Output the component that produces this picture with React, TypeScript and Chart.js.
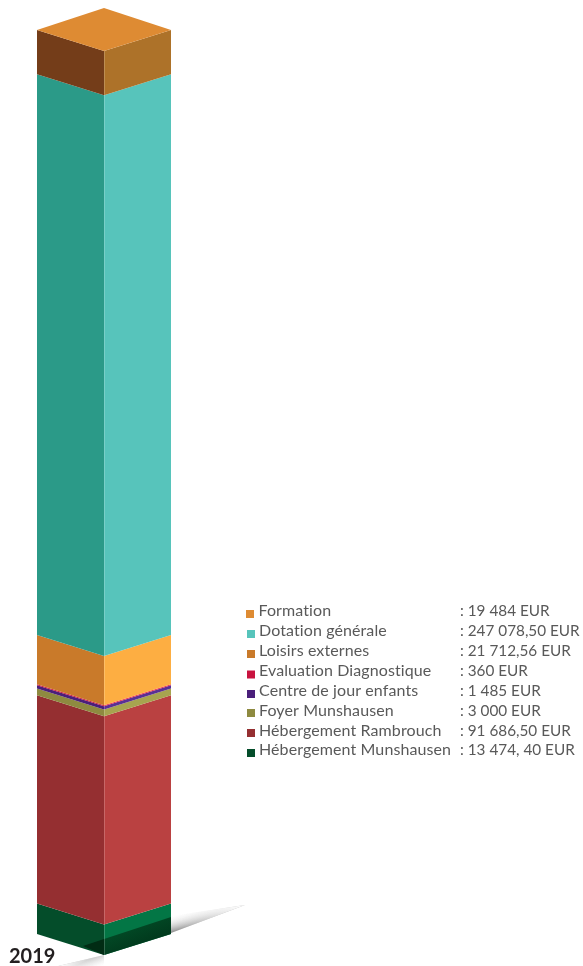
import React, { useEffect, useRef } from "react";
import { Chart, registerables } from "chart.js";

Chart.register(...registerables);

const years = ["2019"];
const categories = ["Hébergement Munshausen", "Hébergement Rambrouch", "Foyer Munshausen", "Centre de jour enfants", "Evaluation Diagnostique", "Loisirs externes", "Dotation générale", "Formation"];
const amounts = [13474.4, 91686.5, 3000, 1485, 360, 21712.56, 247078.5, 19484];
const amountLabels = ["13 474, 40 EUR", "91 686,50 EUR", "3 000 EUR", "1 485 EUR", "360 EUR", "21 712,56 EUR", "247 078,50 EUR", "19 484 EUR"];
const leftColors = ["#044d2a", "#952f31", "#8e8a40", "#4a1f7a", "#c8133f", "#c97a2a", "#2b9a88", "#743d19"];
const rightColors = ["#037645", "#ba4141", "#a7a44f", "#5a3094", "#e8294f", "#fdae42", "#57c4bb", "#ad7229"];
const swatchColors = ["#044d2a", "#952f31", "#8e8a40", "#4a1f7a", "#c8133f", "#c97a2a", "#57c4bb", "#de8b33"];
const topColor = "#de8b33";

const prism3d = {
  id: "prism3d",
  beforeDatasetsDraw(chart: any) {
    const ctx = chart.ctx;
    const poly = (pts: number[][], fill: any) => {
      ctx.beginPath();
      pts.forEach((p, i) => (i ? ctx.lineTo(p[0], p[1]) : ctx.moveTo(p[0], p[1])));
      ctx.closePath();
      ctx.fillStyle = fill;
      ctx.fill();
    };
    const dy = 21;
    const first = chart.getDatasetMeta(0).data[0];
    const xL = first.x - first.width / 2;
    const xR = first.x + first.width / 2;
    const xC = first.x;
    const floor = first.base;

    ctx.save();
    // ground shadow, right side: soft across the wedge, fading along it
    const wedge = [[xR, floor - 18], [xR + 74, floor - 29], [xR, floor - 1]];
    const g1 = ctx.createLinearGradient(xR, floor - 1, xR - 5, floor - 16);
    g1.addColorStop(0, "rgba(110,110,110,0.8)");
    g1.addColorStop(1, "rgba(245,245,245,0.05)");
    poly(wedge, g1);
    const g1b = ctx.createLinearGradient(xR, floor - 1, xR + 72, floor - 28);
    g1b.addColorStop(0, "rgba(255,255,255,0)");
    g1b.addColorStop(1, "rgba(255,255,255,1)");
    poly(wedge, g1b);
    // ground shadow, below the base
    const tipY = floor + dy;
    const ground = [[xC, tipY], [xC - 50, tipY + 12], [xC, tipY + 12]];
    const g2 = ctx.createLinearGradient(xC - 6, tipY, xC + 0, tipY + 12);
    g2.addColorStop(0, "rgba(150,150,150,0.65)");
    g2.addColorStop(1, "rgba(255,255,255,0)");
    poly(ground, g2);
    const g2b = ctx.createLinearGradient(xC, tipY, xC - 45, tipY + 11);
    g2b.addColorStop(0, "rgba(255,255,255,0)");
    g2b.addColorStop(1, "rgba(255,255,255,1)");
    poly(ground, g2b);

    chart.data.datasets.forEach((_: any, i: number) => {
      const bar = chart.getDatasetMeta(i).data[0];
      const t = bar.y;
      const b = bar.base;
      poly([[xL, t], [xC, t + dy], [xC, b + dy], [xL, b]], leftColors[i]);
      poly([[xC, t + dy], [xR, t], [xR, b], [xC, b + dy]], rightColors[i]);
      if (i === chart.data.datasets.length - 1) {
        poly([[xL, t], [xC, t + dy], [xR, t], [xC, t - 22]], topColor);
      }
    });

    // dark band of the shadow across the lowest block
    const g3 = ctx.createLinearGradient(xC + 20, floor - 6, xC + 28, floor + 14);
    g3.addColorStop(0, "#024a26");
    g3.addColorStop(1, "#013a1d");
    poly([[xC, floor + 5], [xR, floor - 17], [xR, floor], [xC, floor + dy]], g3);
    poly([[xC - 21, floor + 12], [xC, floor + 5], [xC, floor + dy]], "#012c14");

    // edge highlights
    ctx.strokeStyle = "rgba(255,255,255,0.2)";
    ctx.lineWidth = 1;
    ctx.beginPath();
    ctx.moveTo(xC + 0.5, first.base + dy);
    ctx.lineTo(xC + 0.5, chart.getDatasetMeta(7).data[0].y + dy);
    ctx.stroke();

    // year label
    ctx.fillStyle = "#231f20";
    ctx.font = "700 20px Lato";
    ctx.textBaseline = "alphabetic";
    ctx.textAlign = "left";
    ctx.fillText(years[0], 9, 963);

    // legend
    const swatchY = [610, 630, 650, 670.5, 690, 709, 729, 749];
    const textY = [616, 636, 656, 676, 696, 716, 736, 755];
    for (let row = 0; row < categories.length; row++) {
      const i = categories.length - 1 - row;
      ctx.fillStyle = swatchColors[i];
      ctx.fillRect(row === 0 ? 246 : 247, swatchY[row], 8, 8);
      ctx.fillStyle = "#595959";
      ctx.font = "16px Lato";
      ctx.letterSpacing = "0.1px";
      ctx.fillText(categories[i], row === 0 ? 258.5 : 259, textY[row]);
      ctx.font = "15.3px Lato";
      ctx.letterSpacing = "0px";
      ctx.fillText(": " + amountLabels[i], 460, textY[row]);
    }
    ctx.restore();
  },
};

export default function App() {
  const ref = useRef<HTMLCanvasElement>(null);
  useEffect(() => {
    document.body.style.margin = "0";
    const chart = new Chart(ref.current!, {
      type: "bar",
      data: {
        labels: years,
        datasets: categories.map((label, i) => ({
          label,
          data: [amounts[i]],
          backgroundColor: "rgba(0,0,0,0)",
          borderWidth: 0,
          barPercentage: 1,
          categoryPercentage: 1,
        })),
      },
      options: {
        animation: false,
        responsive: false,
        devicePixelRatio: 1,
        layout: { padding: { left: 37, right: 412, top: 30, bottom: 32 } },
        plugins: { legend: { display: false }, title: { display: false }, tooltip: { enabled: false } },
        scales: {
          x: { stacked: true, display: false },
          y: { stacked: true, display: false, min: 0, max: amounts.reduce((a, b) => a + b, 0) },
        },
      },
      plugins: [prism3d],
    });
    return () => chart.destroy();
  }, []);
  return <canvas ref={ref} width={583} height={966} style={{ display: "block" }} />;
}
